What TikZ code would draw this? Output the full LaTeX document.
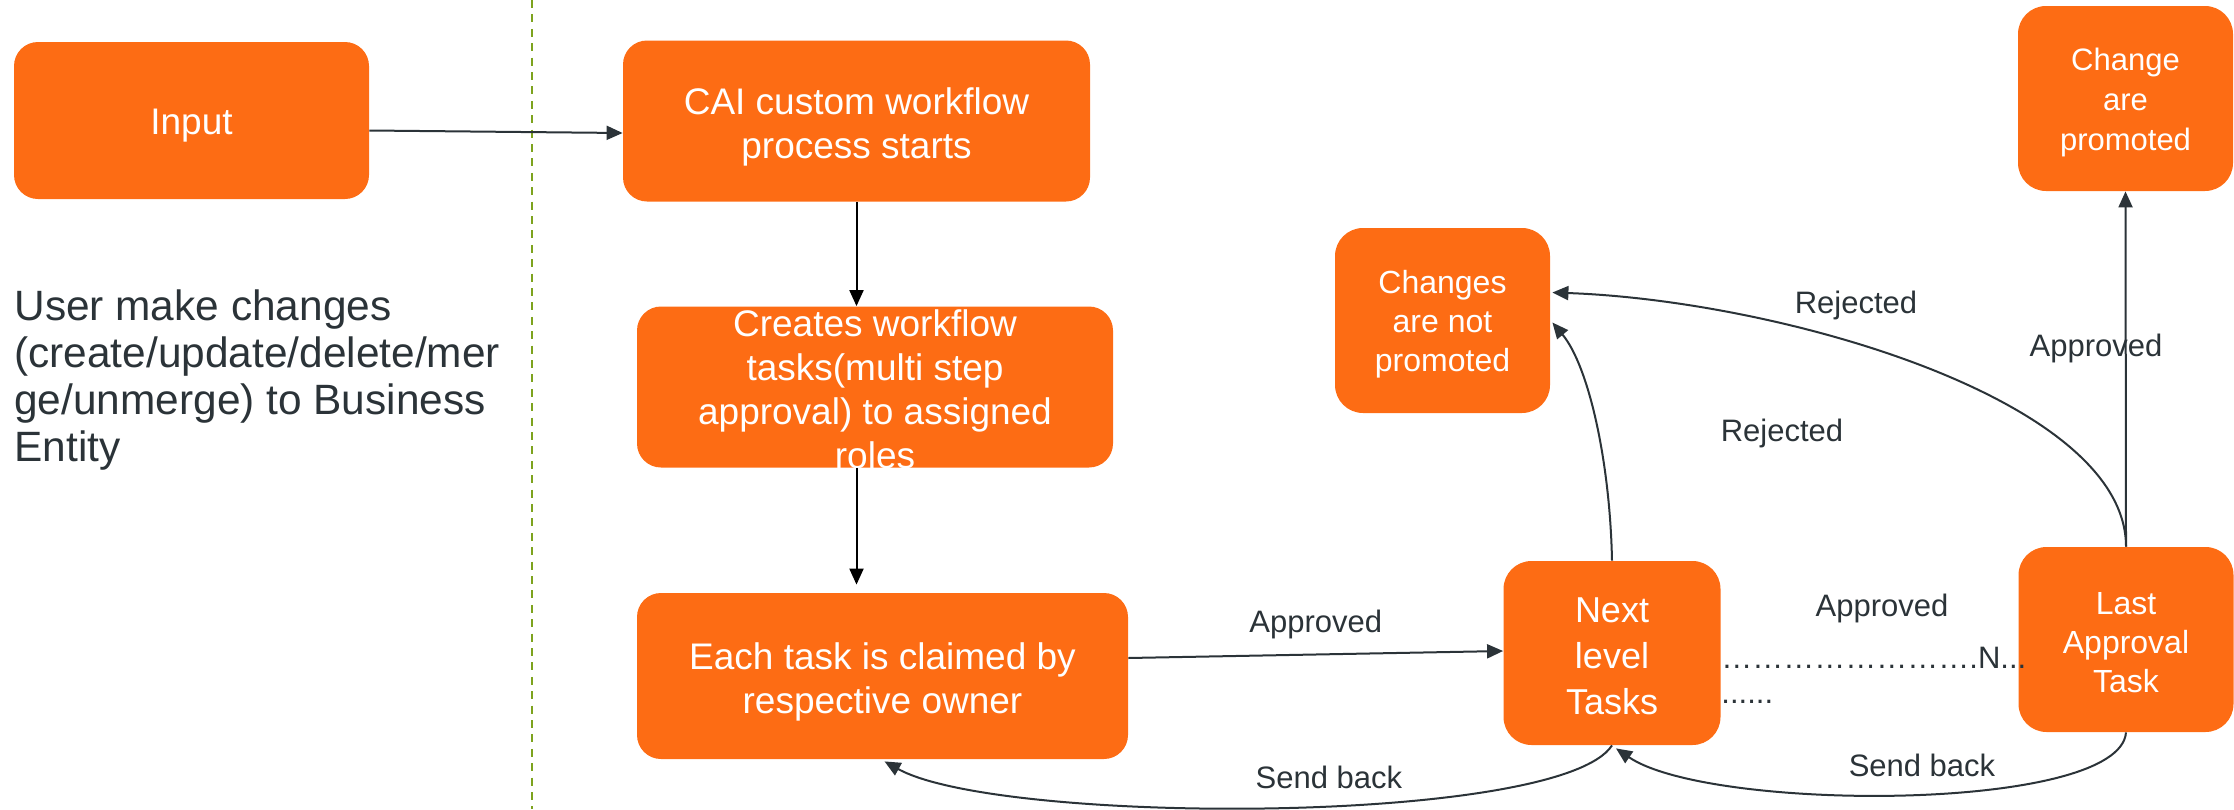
\documentclass[tikz,border=0pt]{standalone}
\usepackage{fontspec}
\setmainfont{Liberation Sans}
\usetikzlibrary{arrows.meta,calc}
\definecolor{boxor}{RGB}{253,108,20}
\definecolor{ink}{RGB}{43,51,56}
\definecolor{divider}{RGB}{125,163,30}
\begin{document}
\begin{tikzpicture}[x=0.5pt,y=-0.5pt,
  box/.style={fill=boxor, draw=none, rounded corners=12pt, inner sep=0pt},
  smallbox/.style={box, rounded corners=14pt, minimum width=107.5pt, minimum height=92.5pt},
  boxtext/.style={text=white, align=center, inner sep=0pt},
  bigtext/.style={font=\fontsize{18.5}{22}\selectfont},
  smalltext/.style={font=\fontsize{16}{19.5}\selectfont},
  lbl/.style={text=ink, font=\fontsize{15.5}{18}\selectfont, inner sep=0pt},
  conn/.style={draw=ink, line width=1pt, -{Triangle[length=8pt,width=7pt]}},
  blackconn/.style={draw=black, line width=1pt, -{Triangle[length=8pt,width=7pt]}},
]
\useasboundingbox (0,0) rectangle (2234,809);

% divider
\draw[divider, line width=1pt, dash pattern=on 4pt off 3.2pt] (532,0) -- (532,809);

% boxes
\node[box,minimum width=177.5pt,minimum height=78.5pt,
  label={[boxtext,bigtext,yshift=-2.8pt]center:{Input}}] (input) at (191.5,120.5) {};
\node[box,minimum width=233.5pt,minimum height=80.5pt,
  label={[boxtext,bigtext,yshift=-2.8pt]center:{CAI custom workflow\\process starts}}] (cai) at (856.5,121) {};
\node[box,minimum width=238pt,minimum height=80.5pt,
  label={[boxtext,bigtext,yshift=-1pt]center:{Creates workflow\\tasks(multi step\\approval) to assigned\\roles}}] (creates) at (875,387) {};
\node[box,minimum width=245.5pt,minimum height=83pt,
  label={[boxtext,bigtext,yshift=-2.8pt]center:{Each task is claimed by\\respective owner}}] (claim) at (882.5,676) {};
\node[box,rounded corners=14pt,minimum width=108.5pt,minimum height=92pt,
  label={[boxtext,font=\fontsize{18}{22.8}\selectfont,yshift=-1.6pt]center:{Next\\level\\Tasks}}] (next) at (1612,653) {};
\node[smallbox,
  label={[boxtext,smalltext,yshift=-1.8pt]center:{Changes\\are not\\promoted}}] (notprom) at (1442.5,320.5) {};
\node[smallbox,
  label={[boxtext,font=\fontsize{15.5}{20}\selectfont,yshift=-2.2pt]center:{Change\\are\\promoted}}] (prom) at (2125.5,98.5) {};
\node[smallbox,
  label={[boxtext,smalltext,yshift=-1.8pt]center:{Last\\Approval\\Task}}] (last) at (2126,639.5) {};

% left description
\node[anchor=north west, text=ink, align=left, inner sep=0pt, font=\fontsize{21.2}{23.6}\selectfont] (usertext) at (14,289)
  {User make changes\\(create/update/delete/mer\\ge/unmerge) to Business\\Entity};

% connectors
\draw[conn] ($(input.east)+(0,10)$) -- ($(cai.west)+(0,12)$);
\draw[blackconn] (cai.south) -- (cai.south |- creates.north);
\draw[blackconn] (creates.south -| cai.south) -- ($(claim.north -| cai.south)+(0,-8)$);

\draw[conn] ($(claim.east)+(0,-18)$) -- ($(next.west)+(0,-2)$)
  node[lbl, midway, yshift=15pt] {Approved};

\draw[conn] (next.south) .. controls ($(next.south)+(-52,80)$) and ($(claim.south)+(117,66)$) .. ($(claim.south)+(2,2)$)
  node[lbl, pos=0.5, xshift=28.5pt, yshift=15pt] {Send back};

\draw[conn] (last.south) .. controls ($(last.south)+(-6,80)$) and ($(next.south)+(98,67)$) .. ($(next.south)+(4,3)$)
  node[lbl, pos=0.5, xshift=9pt, yshift=14.5pt] {Send back};

\draw[conn] (next.north) .. controls ($(next.north)+(-2,-100)$) and ($(notprom.east)+(38,45)$) .. ($(notprom.east)+(2,2)$);
\node[lbl] (rej1) at (1782,433) {Rejected};

\draw[conn] (last.north) .. controls ($(last.north)+(0,-147)$) and ($(notprom.east)+(230,-20)$) .. ($(notprom.east)+(2,-28)$);
\node[lbl] (rej2) at (1856,305) {Rejected};

\draw[conn] (last.north) -- (prom.south);
\node[lbl] (appr2) at (2096,348) {Approved};

\node[lbl] (appr3) at (1882,608) {Approved};

% dotted continuation
\node[lbl, anchor=base west] (dots1) at (1721,668) {…………………….N...};
\node[lbl, anchor=base west] (dots2) at (1721,703) {......};
\end{tikzpicture}
\end{document}
